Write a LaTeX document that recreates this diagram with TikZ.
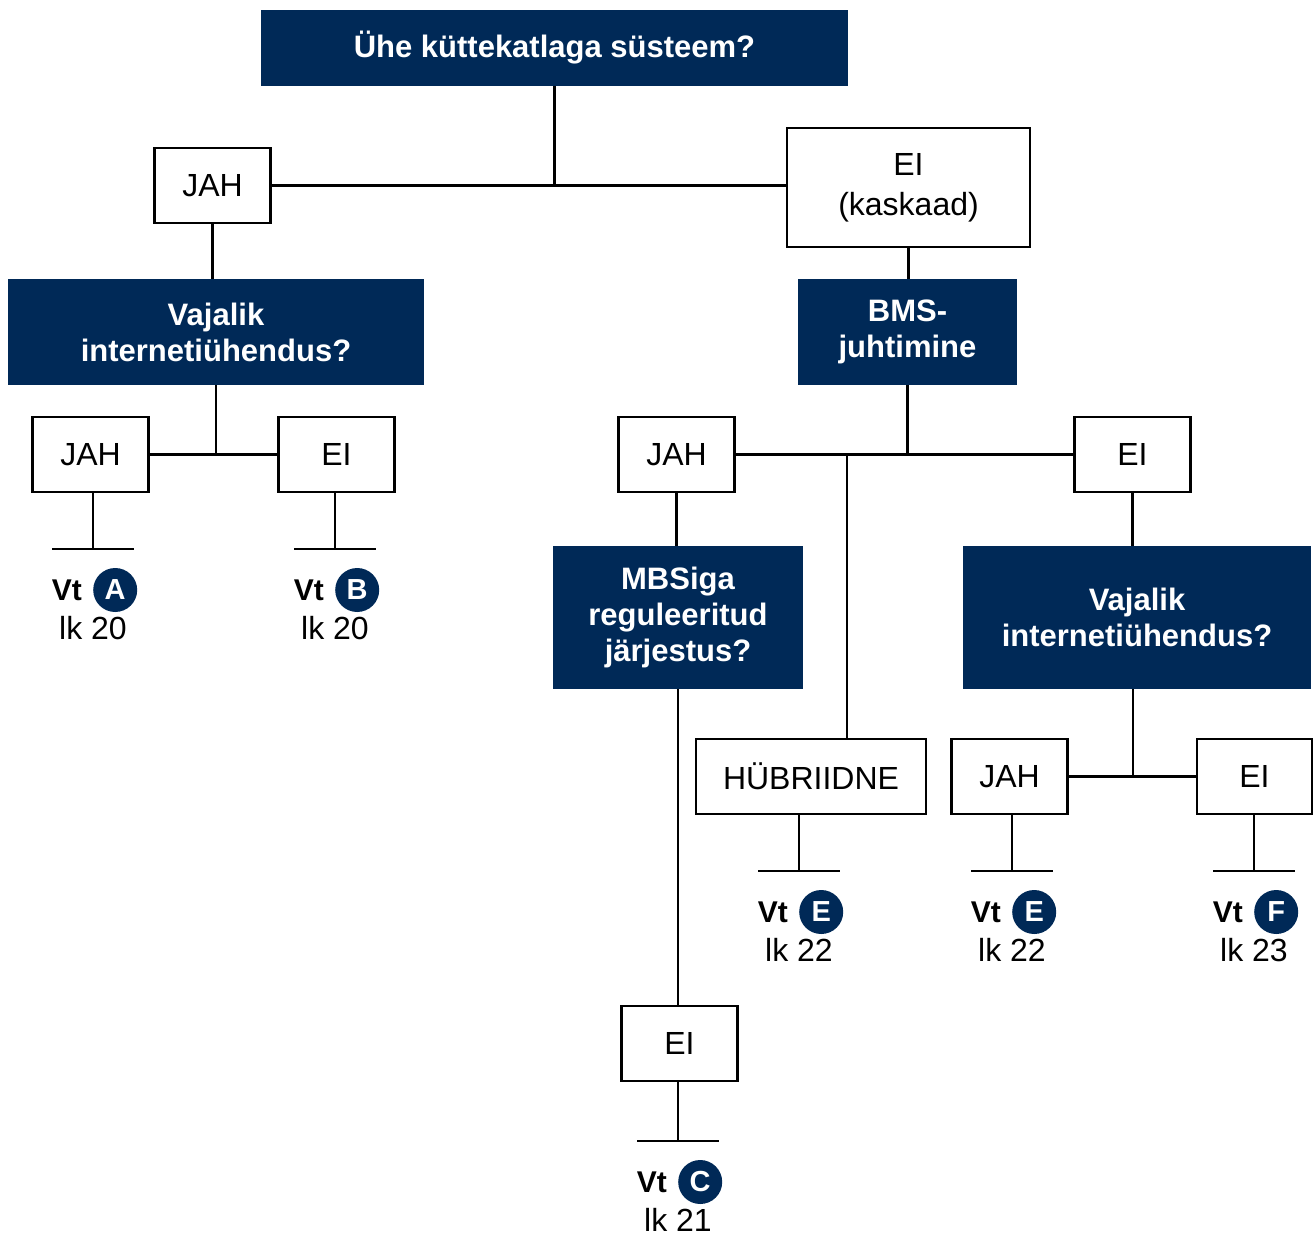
\documentclass[tikz,border=0pt]{standalone}
\usepackage{fontspec}
\setmainfont{Liberation Sans}
\usetikzlibrary{positioning,calc}
\definecolor{boschblue}{RGB}{0,41,87}

\begin{document}
\begin{tikzpicture}[x=1pt,y=-1pt,
    question/.style={
      fill=boschblue,text=white,align=center,inner sep=0pt,
      font=\fontsize{31}{36}\selectfont\bfseries
    },
    answer/.style={
      draw,line width=2.5pt,inner sep=0pt,
      minimum width=116pt,minimum height=75pt,
      font=\fontsize{32}{40}\selectfont
    },
    link/.style={line width=2.5pt},
    vt/.style={inner sep=0pt,font=\fontsize{30}{32}\selectfont\bfseries},
    badge/.style={
      circle,fill=boschblue,text=white,minimum size=44pt,inner sep=0pt,
      font=\fontsize{29}{30}\selectfont\bfseries
    },
    lkpage/.style={inner sep=0pt,font=\fontsize{32}{34}\selectfont}]

    \useasboundingbox (0,0) rectangle (1314,1236);

    % questions and answers
    \node[question,minimum width=587pt,minimum height=76pt] (q1) at (554.5,48) {Ühe küttekatlaga süsteem?};
    \node[answer] (jah1) at (212.5,185.5) {JAH};
    \node[answer,align=center,minimum width=243pt,minimum height=119pt] (ei1) at (908.5,187.5) {EI\\(kaskaad)};

    \node[question,minimum width=416pt,minimum height=106pt] (q2) at (216,332) {Vajalik\\internetiühendus?};
    \node[answer] (jah2) at (90.5,454.5) {JAH};
    \node[answer] (ei2) at (336.5,454.5) {EI};

    \node[question,minimum width=219pt,minimum height=106pt] (q3) at (907.5,332) {BMS-\\juhtimine};
    \node[answer] (jah3) at (676.5,454.5) {JAH};
    \node[answer] (ei3) at (1132.5,454.5) {EI};

    \node[question,minimum width=250pt,minimum height=143pt] (q4) at (678,617.5) {MBSiga\\reguleeritud\\järjestus?};
    \node[question,minimum width=348pt,minimum height=143pt] (q5) at (1137,617.5) {Vajalik\\internetiühendus?};

    \node[answer,minimum width=230pt] (hyb) at (811,776.5) {HÜBRIIDNE};
    \node[answer] (jah5) at (1009.5,776.5) {JAH};
    \node[answer,minimum width=115pt] (ei5) at (1254.5,776.5) {EI};
    \node[answer] (ei4) at (679.5,1043.5) {EI};

    % connectors
    \draw[link] (q1.south) -- (q1.south |- jah1.east);
    \draw[link] (jah1.east) -- (ei1.west |- jah1.east);
    \draw[link] (jah1.south) -- (jah1.south |- q2.north);
    \draw[link] (q2.south) -- (q2.south |- jah2.east);
    \draw[link] (jah2.east) -- (ei2.west);

    \draw[link] (ei1.south) -- (ei1.south |- q3.north);
    \draw[link] (q3.south) -- (q3.south |- jah3.east);
    \draw[link] (jah3.east) -- (ei3.west);
    \coordinate (fork) at (847,454.5);
    \draw[link] (fork) -- (fork |- hyb.north);
    \draw[link] (jah3.south) -- (jah3.south |- q4.north);
    \draw[link] (q4.south) -- (ei4.north -| q4.south);
    \draw[link] (ei3.south) -- (ei3.south |- q5.north);
    \coordinate (fork5) at (1133,689);
    \draw[link] (fork5) -- (fork5 |- jah5.east);
    \draw[link] (jah5.east) -- (ei5.west);

    % page references
    \foreach \from/\name/\x/\y/\letter/\pg in {jah2/a/93/549/A/20, ei2/b/335/549/B/20,
        ei4/c/678/1141/C/21, hyb/d/799/871/E/22, jah5/e/1012/871/E/22, ei5/f/1254/871/F/23} {
      \coordinate (bar\name) at (\x,\y);
      \draw[link] (\from.south -| bar\name) -- (bar\name);
      \draw[link] ([xshift=-41pt]bar\name) -- ([xshift=41pt]bar\name);
      \node[vt,anchor=east] (vt\name) at ([xshift=-11pt,yshift=-41pt]bar\name) {Vt};
      \node[badge,right=11pt of vt\name] (badge\name) {\letter};
      \node[lkpage] (lk\name) at ([yshift=-79pt]bar\name) {lk \pg};
    }
\end{tikzpicture}
\end{document}
